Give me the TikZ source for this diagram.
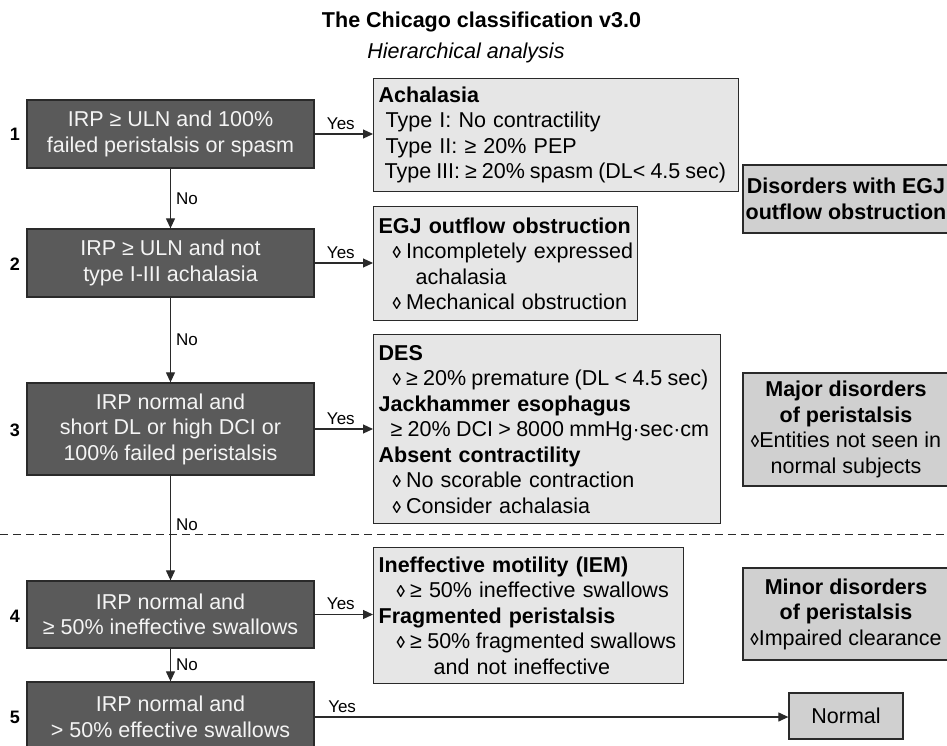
\documentclass[tikz,border=0pt]{standalone}
\usepackage{fontspec}
\setmainfont{Liberation Sans}
\usetikzlibrary{arrows.meta}

\definecolor{darkbox}{HTML}{5A5A5A}
\definecolor{lightbox}{HTML}{E6E6E6}
\definecolor{catbox}{HTML}{D0D0D0}
\definecolor{edgecol}{HTML}{2A2A2A}
\definecolor{boxtext}{HTML}{F4F4F4}

\newcommand{\dia}{{\fontsize{17}{17}\selectfont\bfseries ◊}\hspace{5pt}}
\newcommand{\catdia}{{\fontsize{17}{17}\selectfont\bfseries ◊}}
\newcommand{\bodyfont}{\fontsize{21.5}{25.5}\selectfont}
\newcommand{\rline}[1]{\mbox{#1}}
\newcommand{\tightline}[2]{\mbox{\spaceskip=#1 plus 0.5pt minus 0.5pt #2}}

\tikzset{
  qbox/.style={draw=edgecol, line width=1.3pt, fill=darkbox, text=boxtext,
    minimum width=287pt, inner sep=0pt, align=center, font=\bodyfont},
  rbox/.style={draw=edgecol, line width=1.3pt, fill=lightbox, align=left,
    inner xsep=5pt, inner ysep=0pt, anchor=north west, font=\bodyfont},
  cbox/.style={draw=edgecol, line width=1.3pt, fill=catbox, align=center,
    inner sep=0pt, font=\bodyfont},
  conn/.style={draw=edgecol, line width=1.2pt, -{Triangle[length=10pt,width=9pt]}},
  lbl/.style={font=\fontsize{17}{17}\selectfont, text=black, inner sep=1pt},
  numlbl/.style={font=\fontsize{18}{18}\selectfont\bfseries},
  dashline/.style={draw=edgecol, line width=1pt, dash pattern=on 8pt off 5pt}
}

\begin{document}
\begin{tikzpicture}[x=1pt,y=-1pt]
\useasboundingbox (0,0) rectangle (947,746);

% titles
\node[font=\bodyfont\bfseries] (title) at (481.5,22) {The Chicago classification v3.0};
\node[font=\bodyfont\itshape] (subtitle) at (466,53) {Hierarchical analysis};

% decision boxes
\node[qbox, minimum height=68pt] (B1) at (170.5,134) {IRP ≥ ULN and 100\%\\failed peristalsis or spasm};
\node[qbox, minimum height=68pt] (B2) at (170.5,263) {IRP ≥ ULN and not\\type I-III achalasia};
\node[qbox, minimum height=92pt] (B3) at (170.5,429) {IRP normal and\\short DL or high DCI or\\100\% failed peristalsis};
\node[qbox, minimum height=67pt] (B4) at (170.5,614.5) {IRP normal and\\≥ 50\% ineffective swallows};
\node[qbox, minimum height=70pt] (B5) at (170.5,717) {IRP normal and\\> 50\% effective swallows};

% step numbers
\node[numlbl] (n1) at (15,134) {1};
\node[numlbl] (n2) at (15,264) {2};
\node[numlbl] (n3) at (15,430) {3};
\node[numlbl] (n4) at (15,616) {4};
\node[numlbl] (n5) at (15,717) {5};

% result boxes
\node[rbox, text width=355pt, minimum height=113pt] (A) at (373,78)
  {\rline{\textbf{Achalasia}}\\
   \rline{\hspace*{7pt}Type I: No contractility}\\
   \rline{\hspace*{7pt}Type II: ≥ 20\% PEP}\\
   \tightline{5pt}{\hspace*{6pt}Type III: ≥ 20\% spasm (DL< 4.5 sec)}};
\node[rbox, text width=254pt, minimum height=114pt] (E) at (373,206)
  {\rline{\textbf{EGJ outflow obstruction}}\\
   \rline{\hspace*{14pt}\dia Incompletely expressed}\\
   \rline{\hspace*{37pt}achalasia}\\
   \rline{\hspace*{14pt}\dia Mechanical obstruction}};
\node[rbox, text width=337pt, minimum height=189pt] (D) at (373,334)
  {\rline{\textbf{DES}}\\
   \tightline{5.3pt}{\hspace*{14pt}\dia ≥ 20\% premature (DL < 4.5 sec)}\\
   \rline{\textbf{Jackhammer esophagus}}\\
   \tightline{5.3pt}{\hspace*{12pt}≥ 20\% DCI > 8000 mmHg·sec·cm}\\
   \rline{\textbf{Absent contractility}}\\
   \rline{\hspace*{14pt}\dia No scorable contraction}\\
   \rline{\hspace*{14pt}\dia Consider achalasia}};
\node[rbox, text width=300pt, minimum height=136pt] (I) at (373,547)
  {\rline{\textbf{Ineffective motility (IEM)}}\\
   \rline{\hspace*{18pt}\dia ≥ 50\% ineffective swallows}\\
   \rline{\textbf{Fragmented peristalsis}}\\
   \tightline{5.5pt}{\hspace*{18pt}\dia ≥ 50\% fragmented swallows}\\
   \rline{\hspace*{55pt}and not ineffective}};

% category boxes
\node[cbox, minimum width=206pt, minimum height=68pt] (C1) at (846,199)
  {\textbf{Disorders with EGJ}\\\textbf{outflow obstruction}};
\node[cbox, minimum width=206pt, minimum height=113pt] (C2) at (846,429.5)
  {\textbf{Major disorders}\\\textbf{of peristalsis}\\\catdia Entities not seen in\\normal subjects};
\node[cbox, minimum width=206pt, minimum height=92pt] (C3) at (846,614)
  {\textbf{Minor disorders}\\\textbf{of peristalsis}\\\catdia Impaired clearance};
\node[cbox, minimum width=114pt, minimum height=46pt] (N) at (846,716) {Normal};

% dashed separator
\coordinate (dl) at (0,534);
\coordinate (dr) at (947,534);
\draw[dashline] (dl) -- (dr);

% yes connectors
\draw[conn] (B1.east) -- node[lbl, above, yshift=3pt, xshift=-3pt] {Yes} (B1.east -| A.west);
\draw[conn] (B2.east) -- node[lbl, above, yshift=3pt, xshift=-3pt] {Yes} (B2.east -| E.west);
\draw[conn] (B3.east) -- node[lbl, above, yshift=3pt, xshift=-3pt] {Yes} (B3.east -| D.west);
\draw[conn] (B4.east) -- node[lbl, above, yshift=3pt, xshift=-3pt] {Yes} (B4.east -| I.west);
\draw[conn] (B5.east) -- node[lbl, pos=0, anchor=south west, xshift=12pt, yshift=3pt] {Yes} (B5.east -| N.west);

% no connectors
\draw[conn] (B1.south) -- node[lbl, right, xshift=4pt] {No} (B2.north);
\draw[conn] (B2.south) -- node[lbl, right, xshift=4pt] {No} (B3.north);
\draw[conn] (B3.south) -- node[lbl, right, xshift=4pt, pos=0.47] {No} (B4.north);
\draw[conn] (B4.south) -- node[lbl, right, xshift=4pt] {No} (B5.north);
\end{tikzpicture}
\end{document}
